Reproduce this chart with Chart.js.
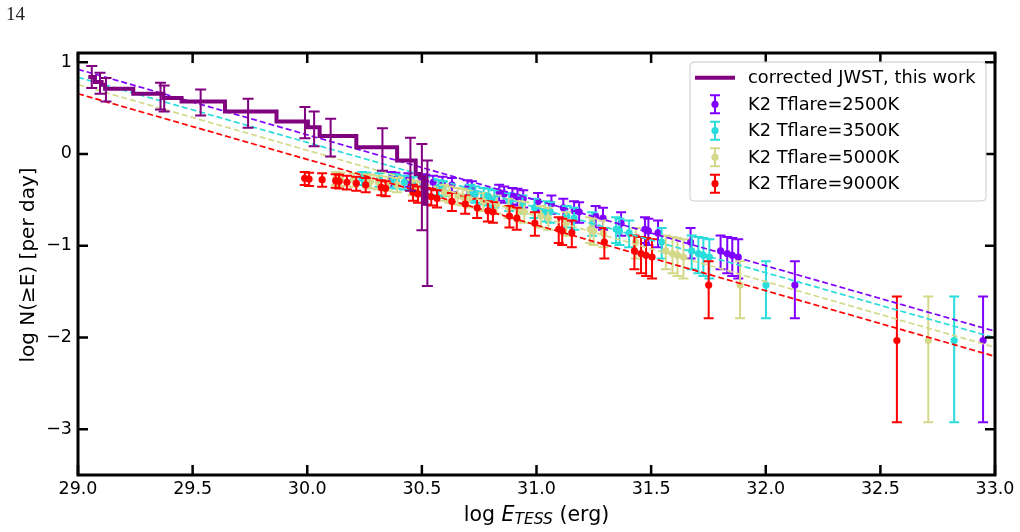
<!DOCTYPE html>
<html>
<head>
<meta charset="utf-8">
<script src="https://cdn.jsdelivr.net/npm/chart.js@4.4.0/dist/chart.umd.min.js"></script>
<style>
  html, body { margin: 0; padding: 0; background: #fff; }
  canvas { display: block; }
</style>
</head>
<body>
<canvas id="ffdChart" width="1020" height="532"></canvas>
<script>
// axis ticks
const xTicks = [29.0, 29.5, 30.0, 30.5, 31.0, 31.5, 32.0, 32.5, 33.0];
const yTicks = [-3, -2, -1, 0, 1];

// corrected JWST cumulative distribution (step outline)
const jwstStepE = [29.045, 29.074, 29.103, 29.118, 29.241, 29.372, 29.452, 29.641, 29.866, 30.003, 30.054, 30.214, 30.392, 30.473, 30.490, 30.512];
const jwstStepN = [0.839, 0.784, 0.755, 0.711, 0.656, 0.609, 0.572, 0.463, 0.353, 0.292, 0.194, 0.073, -0.071, -0.219, -0.252, -0.566];

// JWST error bars
const jwstE = [29.060, 29.096, 29.122, 29.360, 29.376, 29.535, 29.742, 29.990, 30.030, 30.102, 30.328, 30.450, 30.500, 30.524];
const jwstN = [0.839, 0.771, 0.700, 0.631, 0.605, 0.561, 0.443, 0.341, 0.273, 0.177, 0.049, -0.113, -0.361, -0.757];
const jwstErr = [0.120, 0.115, 0.128, 0.146, 0.142, 0.142, 0.159, 0.170, 0.190, 0.206, 0.232, 0.288, 0.470, 0.684];

// K2 flares: same cumulative rates for every flare temperature
const k2N = [-0.266, -0.274, -0.281, -0.292, -0.299, -0.310, -0.321, -0.336, -0.365, -0.375, -0.419, -0.438, -0.456, -0.467, -0.485, -0.518, -0.547, -0.587, -0.620, -0.631, -0.678, -0.700, -0.755, -0.821, -0.839, -0.861, -0.960, -1.058, -1.086, -1.105, -1.124, -1.430, -2.035];
const k2ErrUp = [0.068, 0.069, 0.070, 0.071, 0.071, 0.072, 0.073, 0.074, 0.077, 0.078, 0.082, 0.084, 0.085, 0.086, 0.088, 0.092, 0.095, 0.099, 0.103, 0.104, 0.110, 0.113, 0.120, 0.130, 0.133, 0.136, 0.153, 0.170, 0.180, 0.188, 0.195, 0.260, 0.480];
const k2ErrDown = [0.074, 0.075, 0.076, 0.077, 0.078, 0.079, 0.080, 0.081, 0.085, 0.086, 0.091, 0.093, 0.095, 0.096, 0.098, 0.103, 0.106, 0.112, 0.116, 0.118, 0.125, 0.128, 0.137, 0.150, 0.153, 0.157, 0.180, 0.200, 0.215, 0.225, 0.235, 0.360, 0.890];

const k2E2500 = [30.365, 30.384, 30.441, 30.500, 30.515, 30.549, 30.590, 30.631, 30.699, 30.718, 30.837, 30.859, 30.895, 30.917, 30.942, 31.007, 31.065, 31.117, 31.164, 31.186, 31.258, 31.290, 31.369, 31.473, 31.488, 31.530, 31.672, 31.803, 31.832, 31.854, 31.880, 32.127, 32.948];
const k2E3500 = [30.239, 30.258, 30.315, 30.374, 30.389, 30.423, 30.464, 30.505, 30.573, 30.592, 30.711, 30.733, 30.769, 30.791, 30.816, 30.881, 30.939, 30.991, 31.038, 31.060, 31.132, 31.164, 31.243, 31.347, 31.362, 31.404, 31.546, 31.677, 31.706, 31.728, 31.754, 32.001, 32.822];
const k2E5000 = [30.126, 30.145, 30.202, 30.261, 30.276, 30.310, 30.351, 30.392, 30.460, 30.479, 30.598, 30.620, 30.656, 30.678, 30.703, 30.768, 30.826, 30.878, 30.925, 30.947, 31.019, 31.051, 31.130, 31.234, 31.249, 31.291, 31.433, 31.564, 31.593, 31.615, 31.641, 31.888, 32.709];
const k2E9000 = [29.989, 30.008, 30.065, 30.124, 30.139, 30.173, 30.214, 30.255, 30.323, 30.342, 30.461, 30.483, 30.519, 30.541, 30.566, 30.631, 30.689, 30.741, 30.788, 30.810, 30.882, 30.914, 30.993, 31.097, 31.112, 31.154, 31.296, 31.427, 31.456, 31.478, 31.504, 31.751, 32.572];

// power-law fits (dashed)
const fitE = [29.0, 33.0];
const fit2500 = [0.922, -1.933];
const fit3500 = [0.835, -2.005];
const fit5000 = [0.755, -2.108];
const fit9000 = [0.656, -2.207];

const seriesLabels = ['corrected JWST, this work', 'K2 Tflare=2500K', 'K2 Tflare=3500K', 'K2 Tflare=5000K', 'K2 Tflare=9000K'];
const colJwst = '#800080';
const col2500 = '#8000ff';
const col3500 = '#2bdcdc';
const col5000 = '#d4d98a';
const col9000 = '#ff0000';

const FONT = '"DejaVu Sans", "Liberation Sans", sans-serif';
Chart.defaults.font.family = FONT;
Chart.defaults.color = '#000';

function pts(xs, ys) {
    return xs.map((v, i) => ({ x: v, y: ys[i] }));
}

function k2Set(xs, color, order) {
    return {
        data: pts(xs, k2N),
        showLine: false,
        pointRadius: 3.6,
        pointBorderWidth: 0,
        pointBackgroundColor: color,
        pointBorderColor: color,
        errUp: k2ErrUp,
        errDown: k2ErrDown,
        barColor: color,
        barWidth: 2,
        cap: 5,
        order: order
    };
}

function fitSet(ys, color) {
    return {
        data: pts(fitE, ys),
        showLine: true,
        borderColor: color,
        borderWidth: 1.7,
        borderDash: [6, 3],
        pointRadius: 0,
        fill: false,
        order: 2
    };
}

// vertical error bars with caps, drawn just under each dataset's markers
const errorBars = {
    id: 'errorBars',
    beforeDatasetDraw(chart, args) {
        const ds = chart.data.datasets[args.index];
        if (!ds.errUp) return;
        const { ctx, chartArea: a, scales: { x, y } } = chart;
        ctx.save();
        ctx.beginPath();
        ctx.rect(a.left, a.top, a.right - a.left, a.bottom - a.top);
        ctx.clip();
        ctx.strokeStyle = ds.barColor;
        ctx.lineWidth = ds.barWidth;
        ds.data.forEach(function (p, i) {
            const px = x.getPixelForValue(p.x);
            const top = y.getPixelForValue(p.y + ds.errUp[i]);
            const bot = y.getPixelForValue(p.y - ds.errDown[i]);
            ctx.beginPath();
            ctx.moveTo(px, top); ctx.lineTo(px, bot);
            ctx.moveTo(px - ds.cap, top); ctx.lineTo(px + ds.cap, top);
            ctx.moveTo(px - ds.cap, bot); ctx.lineTo(px + ds.cap, bot);
            ctx.stroke();
        });
        ctx.restore();
    }
};

// frame, inward ticks, axis titles, legend, page number
const decorations = {
    id: 'decorations',
    afterDraw(chart) {
        const { ctx, chartArea: a, scales: { x, y } } = chart;
        ctx.save();

        // inward ticks on all four sides
        ctx.strokeStyle = '#000';
        ctx.lineWidth = 2.5;
        ctx.beginPath();
        xTicks.forEach(function (v) {
            const px = x.getPixelForValue(v);
            ctx.moveTo(px, a.bottom); ctx.lineTo(px, a.bottom - 10);
            ctx.moveTo(px, a.top); ctx.lineTo(px, a.top + 10);
        });
        yTicks.forEach(function (v) {
            const py = y.getPixelForValue(v);
            ctx.moveTo(a.left, py); ctx.lineTo(a.left + 10, py);
            ctx.moveTo(a.right, py); ctx.lineTo(a.right - 10, py);
        });
        ctx.stroke();

        ctx.lineWidth = 3;
        ctx.strokeRect(a.left, a.top, a.right - a.left, a.bottom - a.top);

        // x axis title: log E_TESS (erg)
        ctx.fillStyle = '#000';
        ctx.textBaseline = 'alphabetic';
        ctx.textAlign = 'left';
        const parts = [
            { t: 'log ', f: '20.5px ' + FONT, dy: 0 },
            { t: 'E', f: 'italic 20.5px ' + FONT, dy: 0 },
            { t: 'TESS', f: 'italic 15.5px ' + FONT, dy: 3.5 },
            { t: ' (erg)', f: '20.5px ' + FONT, dy: 0 }
        ];
        let total = 0;
        parts.forEach(function (p) { ctx.font = p.f; p.w = ctx.measureText(p.t).width; total += p.w; });
        let cx = (a.left + a.right) / 2 - total / 2;
        parts.forEach(function (p) {
            ctx.font = p.f;
            ctx.fillText(p.t, cx, 520.5 + p.dy);
            cx += p.w;
        });

        // y axis title
        ctx.save();
        ctx.translate(33.5, (a.top + a.bottom) / 2 + 1);
        ctx.rotate(-Math.PI / 2);
        ctx.textAlign = 'center';
        ctx.font = '20px ' + FONT;
        ctx.fillText('log N(\u2265E) [per day]', 0, 0);
        ctx.restore();

        // legend
        const lx = 690, ly = 62, lw = 296, lh = 139;
        ctx.beginPath();
        ctx.roundRect(lx, ly, lw, lh, 4);
        ctx.fillStyle = 'rgba(255,255,255,0.85)';
        ctx.fill();
        ctx.strokeStyle = '#cccccc';
        ctx.lineWidth = 1;
        ctx.stroke();

        const rows = [77.7, 104.3, 130.7, 157.2, 183.7];
        const handleCols = [colJwst, col2500, col3500, col5000, col9000];
        ctx.font = '17.8px ' + FONT;
        ctx.textBaseline = 'middle';
        ctx.textAlign = 'left';
        rows.forEach(function (ry, i) {
            const c = handleCols[i];
            if (i === 0) {
                ctx.strokeStyle = c;
                ctx.lineWidth = 4;
                ctx.beginPath();
                ctx.moveTo(695, ry); ctx.lineTo(735, ry);
                ctx.stroke();
            } else {
                ctx.strokeStyle = c;
                ctx.lineWidth = 2;
                ctx.beginPath();
                ctx.moveTo(715, ry - 9); ctx.lineTo(715, ry + 9);
                ctx.moveTo(710, ry - 9); ctx.lineTo(720, ry - 9);
                ctx.moveTo(710, ry + 9); ctx.lineTo(720, ry + 9);
                ctx.stroke();
                ctx.fillStyle = c;
                ctx.beginPath();
                ctx.arc(715, ry, 3.6, 0, Math.PI * 2);
                ctx.fill();
            }
            ctx.fillStyle = '#000';
            ctx.fillText(seriesLabels[i], 748, ry + 1);
        });

        // page number
        ctx.font = '19px "Liberation Serif", "DejaVu Serif", serif';
        ctx.fillStyle = '#222';
        ctx.textBaseline = 'alphabetic';
        ctx.fillText('14', 6, 20);

        ctx.restore();
    }
};

new Chart(document.getElementById('ffdChart'), {
    type: 'scatter',
    data: {
        datasets: [
            {
                data: pts(jwstE, jwstN),
                showLine: false,
                pointRadius: 0,
                errUp: jwstErr,
                errDown: jwstErr,
                barColor: colJwst,
                barWidth: 2,
                cap: 5.5,
                order: 0
            },
            {
                data: pts(jwstStepE, jwstStepN),
                showLine: true,
                stepped: 'before',
                borderColor: colJwst,
                borderWidth: 4,
                borderJoinStyle: 'miter',
                pointRadius: 0,
                fill: false,
                order: 1
            },
            fitSet(fit2500, col2500),
            fitSet(fit3500, col3500),
            fitSet(fit5000, col5000),
            fitSet(fit9000, col9000),
            k2Set(k2E9000, col9000, 3),
            k2Set(k2E5000, col5000, 4),
            k2Set(k2E3500, col3500, 5),
            k2Set(k2E2500, col2500, 6)
        ]
    },
    options: {
        responsive: false,
        animation: false,
        events: [],
        layout: { padding: { top: 53, right: 25, left: 0, bottom: 0 } },
        plugins: {
            legend: { display: false },
            tooltip: { enabled: false }
        },
        scales: {
            x: {
                type: 'linear',
                min: 29,
                max: 33,
                grid: { display: false, drawTicks: false },
                border: { display: false },
                afterBuildTicks: function (s) { s.ticks = xTicks.map(v => ({ value: v })); },
                afterFit: function (s) { s.height = 57; },
                ticks: {
                    padding: 4,
                    maxRotation: 0,
                    autoSkip: false,
                    color: '#000',
                    font: { size: 17.5 },
                    callback: v => v.toFixed(1)
                }
            },
            y: {
                type: 'linear',
                min: -3.5,
                max: 1.1,
                grid: { display: false, drawTicks: false },
                border: { display: false },
                afterBuildTicks: function (s) { s.ticks = yTicks.map(v => ({ value: v })); },
                afterFit: function (s) { s.width = 78; },
                ticks: {
                    padding: 6,
                    autoSkip: false,
                    color: '#000',
                    font: { size: 17.5 },
                    callback: v => (v < 0 ? '\u2212' + Math.abs(v) : String(v))
                }
            }
        }
    },
    plugins: [errorBars, decorations]
});
</script>
</body>
</html>
